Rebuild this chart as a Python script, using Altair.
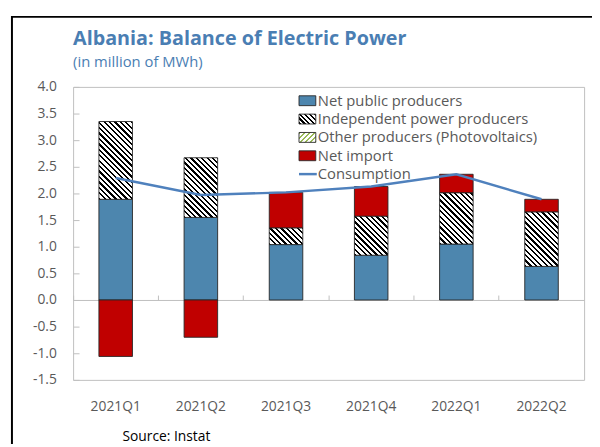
import altair as alt
import pandas as pd

# ---------------- data (million MWh) ----------------
quarters = ["2021Q1", "2021Q2", "2021Q3", "2021Q4", "2022Q1", "2022Q2"]
net_public = [1.89, 1.55, 1.04, 0.84, 1.05, 0.63]
independent = [1.46, 1.12, 0.31, 0.73, 0.96, 1.02]
other_pv = [0.0, 0.0, 0.0, 0.0, 0.0, 0.0]
net_import = [-1.06, -0.70, 0.67, 0.56, 0.35, 0.24]
consumption = [2.29, 1.97, 2.02, 2.13, 2.36, 1.89]

series_names = ["Net public producers", "Independent power producers",
                "Other producers (Photovoltaics)", "Net import"]
line_name = "Consumption"
y_ticks = [-1.5, -1.0, -0.5, 0.0, 0.5, 1.0, 1.5, 2.0, 2.5, 3.0, 3.5, 4.0]
title_text = "Albania: Balance of Electric Power"
subtitle_text = "(in million of MWh)"
source_text = "Source: Instat"

rows = []
for i, q in enumerate(quarters):
    for k, vals in enumerate([net_public, independent, other_pv, net_import]):
        rows.append({"quarter": q, "series": series_names[k], "order": k, "value": vals[i]})
df = pd.DataFrame(rows)
cons_df = pd.DataFrame({"quarter": quarters, "value": consumption, "series": line_name})

# ---------------- style ----------------
FONT = "Open Sans"
W_PLOT, H_PLOT = 518, 297
Y_DOM = [-1.5, 4.0]
PX = H_PLOT / (Y_DOM[1] - Y_DOM[0])
BAR_W = 34
BLUE = "#4d86ae"
RED = "#c00000"
LINE = "#4f81bd"
TITLE_C = "#4a7eb3"
GREEN = "#9bbb59"
LABEL_C = "#595959"
GRID_C = "#bfbfbf"
EDGE = "#262626"


def hatch(W, H, fg, bg, period=5.5, frac=0.42, direction="\\"):
    H = max(H, 1.0)
    s = (W + H) / (W * W + H * H)
    if direction == "\\":
        x1, y1, x2, y2 = 0, 1, s * W, 1 - s * H
    else:
        x1, y1, x2, y2 = 0, 0, s * W, s * H
    n = (W + H) / period
    stops = []
    k = 0
    while k / n < 1:
        a = k / n
        b = min((k + frac) / n, 1.0)
        c = min((k + 1) / n, 1.0)
        stops += [{"offset": a, "color": fg}, {"offset": b, "color": fg},
                  {"offset": b, "color": bg}, {"offset": c, "color": bg}]
        k += 1
    return {"gradient": "linear", "x1": x1, "y1": y1, "x2": x2, "y2": y2, "stops": stops}


xs = alt.Scale(domain=quarters, paddingInner=0, paddingOuter=0)
ys = alt.Scale(domain=Y_DOM, nice=False, zero=False)

x_axis = alt.Axis(orient="bottom", domain=False, ticks=False, tickSize=0, labelPadding=20,
                  labelFontSize=14, labelFont=FONT, labelColor=LABEL_C, labelAngle=0,
                  title=None, grid=False)
y_axis = alt.Axis(orient="left", domain=False, ticks=False, tickSize=0, labelPadding=17,
                  values=y_ticks, labelFontSize=14, labelFont=FONT, labelColor=LABEL_C,
                  labelExpr="datum.value < 0 ? '-' + format(-datum.value, '.1f') : format(datum.value, '.1f')",
                  title=None, grid=False)

base = alt.Chart(df).transform_stack(
    stack="value", groupby=["quarter"], sort=[alt.SortField("order", "ascending")],
    as_=["y0", "y1"]
)


def bar_layer(filt, fill):
    return base.transform_filter(filt).mark_bar(
        width=BAR_W, fill=fill, stroke=EDGE, strokeWidth=0.9
    ).encode(
        x=alt.X("quarter:N", scale=xs, axis=x_axis, sort=quarters),
        y=alt.Y("y0:Q", scale=ys, axis=y_axis),
        y2="y1:Q",
    )


bar_layers = [
    bar_layer(alt.datum.order == 0, BLUE),
    bar_layer(alt.datum.order == 3, RED),
]
for i, q in enumerate(quarters):
    if independent[i] != 0:
        g = hatch(BAR_W, abs(independent[i]) * PX, "#000000", "#ffffff")
        bar_layers.append(bar_layer((alt.datum.order == 1) & (alt.datum.quarter == q), g))
    if other_pv[i] != 0:
        g = hatch(BAR_W, abs(other_pv[i]) * PX, GREEN, "#ffffff", direction="/")
        bar_layers.append(bar_layer((alt.datum.order == 2) & (alt.datum.quarter == q), g))

bars = alt.layer(*bar_layers)

line = alt.Chart(cons_df).mark_line(color=LINE, strokeWidth=2.5).encode(
    x=alt.X("quarter:N", scale=xs, sort=quarters,
            axis=alt.Axis(orient="top", offset=-(Y_DOM[1] * PX), labels=False, domain=True,
                          domainColor=GRID_C, domainWidth=1, ticks=True, tickSize=5,
                          tickColor=GRID_C, bandPosition=0, title=None, grid=False)),
    y=alt.Y("value:Q", scale=ys,
            axis=alt.Axis(orient="right", offset=-W_PLOT, labels=False, domain=False,
                          ticks=True, tickSize=6, tickColor=GRID_C, values=y_ticks,
                          title=None, grid=False)),
)

# ---------------- manual legend ----------------
one = pd.DataFrame({"a": [0]})
LX0, LX1, LT = 229, 246, 248
LY0, LDY = 14, 18.6
leg_fills = [BLUE, hatch(17, 10, "#000000", "#ffffff", period=5),
             hatch(17, 10, GREEN, "#ffffff", period=5, direction="/"), RED]
legend_layers = []
for i, name in enumerate(series_names):
    yc = LY0 + i * LDY
    legend_layers.append(
        alt.Chart(one).mark_rect(fill=leg_fills[i], stroke=EDGE, strokeWidth=0.9).encode(
            x=alt.value(LX0), x2=alt.value(LX1), y=alt.value(yc - 5), y2=alt.value(yc + 5))
    )
    legend_layers.append(
        alt.Chart(pd.DataFrame({"t": [name]})).mark_text(
            align="left", baseline="middle", font=FONT, fontSize=15, color=LABEL_C
        ).encode(x=alt.value(LT), y=alt.value(yc), text="t:N")
    )
yc = LY0 + 4 * LDY
legend_layers.append(
    alt.Chart(one).mark_rule(color=LINE, strokeWidth=2.5).encode(
        x=alt.value(LX0), x2=alt.value(LX1 + 1), y=alt.value(yc))
)
legend_layers.append(
    alt.Chart(pd.DataFrame({"t": [line_name]})).mark_text(
        align="left", baseline="middle", font=FONT, fontSize=15, color=LABEL_C
    ).encode(x=alt.value(LT), y=alt.value(yc), text="t:N")
)

frame = alt.Chart(one).mark_rect(fillOpacity=0, stroke="#000000", strokeWidth=2).encode(
    x=alt.value(-62), x2=alt.value(W_PLOT + 100), y=alt.value(-71), y2=alt.value(H_PLOT + 100)
)

title = alt.Chart(pd.DataFrame({"t": [title_text]})).mark_text(
    align="left", baseline="alphabetic", font=FONT, fontSize=20, fontWeight="bold", color=TITLE_C
).encode(x=alt.value(0), y=alt.value(-42), text="t:N")

subtitle = alt.Chart(pd.DataFrame({"t": [subtitle_text]})).mark_text(
    align="left", baseline="alphabetic", font=FONT, fontSize=15, color=TITLE_C
).encode(x=alt.value(0), y=alt.value(-20), text="t:N")

source = alt.Chart(pd.DataFrame({"t": [source_text]})).mark_text(
    align="left", baseline="middle", font=FONT, fontSize=14, color="#000000"
).encode(x=alt.value(50), y=alt.value(355), text="t:N")

chart = alt.layer(bars, line, *legend_layers, frame, title, subtitle, source).resolve_axis(
    x="independent", y="independent"
).properties(
    width=W_PLOT, height=H_PLOT,
    autosize=alt.AutoSizeParams(type="none"),
    padding={"left": 66, "top": 77, "right": 8, "bottom": 62},
).configure_view(stroke=GRID_C, strokeWidth=1).configure_axis(grid=False)

chart.save("out.html", embed_options={"renderer": "svg", "actions": False})
